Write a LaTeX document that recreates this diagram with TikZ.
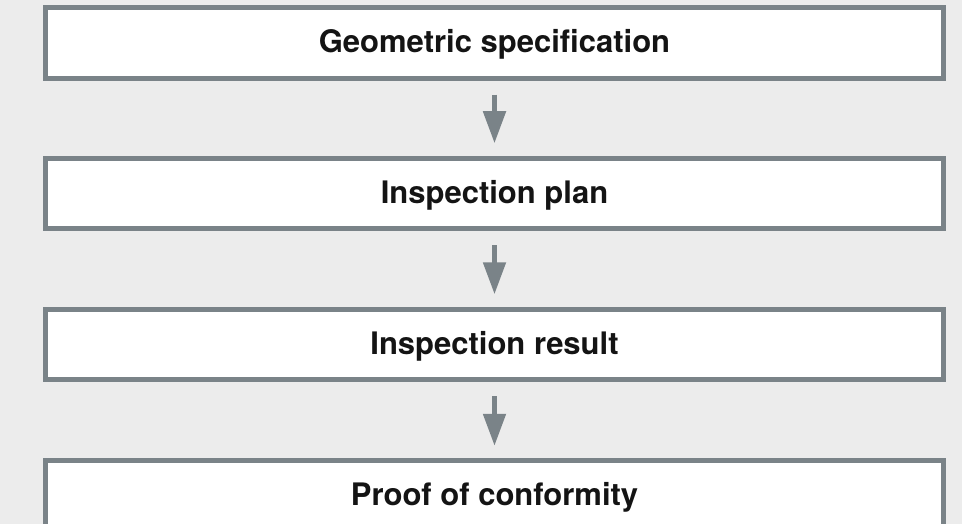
\documentclass[tikz,border=0pt]{standalone}
\usepackage{fontspec}
\setmainfont{TeX Gyre Heros}
\usetikzlibrary{arrows.meta}
\definecolor{framegray}{HTML}{7A8388}
\definecolor{bggray}{HTML}{ECECEC}

\begin{document}
\begin{tikzpicture}[x=1pt,y=-1pt,
    stage/.style={draw=framegray, line width=5pt, fill=white,
      minimum width=898pt, minimum height=70.5pt, inner sep=0pt,
      text height=22.5pt, text depth=3pt,
      font=\fontsize{31}{37}\selectfont\bfseries, text=black!92},
    flow/.style={-{Triangle[length=32pt,width=22pt]}, draw=framegray,
      line width=5pt, shorten <=14pt, shorten >=12.5pt}]
  % Background
  \fill[bggray] (0,0) rectangle (962,524);
  \useasboundingbox (0,0) rectangle (962,524);
  \clip (0,0) rectangle (962,524);

  % Stages
  \node[stage] (spec)   at (494.5,43)  {Geometric specification};
  \node[stage] (plan)   at (494.5,193.5) {Inspection plan};
  \node[stage] (result) at (494.5,344.5) {Inspection result};
  \node[stage] (proof)  at (494.5,496) {Proof of conformity};

  % Arrows between stages
  \draw[flow] (spec)   -- (plan);
  \draw[flow] (plan)   -- (result);
  \draw[flow] (result) -- (proof);
\end{tikzpicture}
\end{document}
